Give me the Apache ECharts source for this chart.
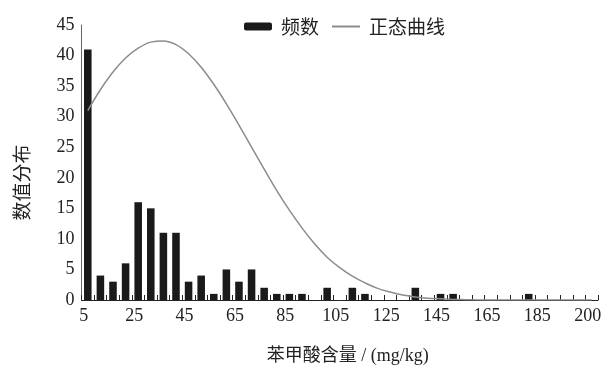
<!DOCTYPE html>
<html>
<head>
<meta charset="utf-8">
<title>苯甲酸含量分布</title>
<script src="https://cdn.jsdelivr.net/npm/echarts@6/dist/echarts.min.js"></script>
<style>
	html, body { margin: 0; padding: 0; background: #fff; }
	#chart { width: 608px; height: 365px; }
</style>
</head>
<body>
<div id="chart"></div>
<script>
	// 分组（含量区间，mg/kg）
	var bins = ['5','10','15','20','25','30','35','40','45','50','55','60','65','70','75','80','85','90','95','100',
		'105','110','115','120','125','130','135','140','145','150','155','160','165','170','175','180','185','190','195','200','205'];
	// 频数
	var freq = [41,4,3,6,16,15,11,11,3,4,1,5,3,5,2,1,1,1,0,2,
		0,2,1,0,0,0,2,0,1,1,0,0,0,0,0,1,0,0,0,0,0];
	// 正态曲线
	var normal = [31.0,34.4,37.3,39.6,41.2,42.2,42.4,41.8,40.3,38.1,35.3,32.1,28.6,25.0,21.4,17.9,14.7,11.8,9.2,7.0,
		5.3,3.9,2.8,1.9,1.3,0.8,0.5,0.3,0.2,0.1,0.05,0,0,0,0,0,0,0,0,0,0];
	// x轴刻度标签：[分组序号, 文本]
	var xTicks = [[0,'5'],[4,'25'],[8,'45'],[12,'65'],[16,'85'],[20,'105'],[24,'125'],[28,'145'],[32,'165'],[36,'185'],[40,'200']];
	var yTicks = [0, 45, 5];

	var serif = "'Liberation Serif', 'Times New Roman', 'Noto Sans CJK SC'";
	var tickMap = {};
	xTicks.forEach(function (t) { tickMap[t[0]] = t[1]; });

	var chart = echarts.init(document.getElementById('chart'));
	var option = {
		animation: false,
		color: ['#1a1a1a', '#8c8c8c'],
		legend: {
			left: 239,
			top: 12,
			itemGap: 12,
			itemWidth: 28,
			itemHeight: 8,
			data: [
				'频数',
				// 图例只画线，不要圆点
				{ name: '正态曲线', itemStyle: { color: 'rgba(0,0,0,0)', borderColor: 'rgba(0,0,0,0)', borderWidth: 0 } }
			],
			textStyle: {
				color: '#222',
				fontSize: 19,
				fontFamily: "'Noto Sans CJK SC'",
				padding: [0, 0, 0, 4]
			}
		},
		grid: {
			left: 81.5,
			right: 10,
			top: 25,
			bottom: 65,
			containLabel: false,
			outerBoundsMode: 'none'
		},
		xAxis: {
			type: 'category',
			data: bins,
			boundaryGap: true,
			name: '苯甲酸含量 / (mg/kg)',
			nameLocation: 'middle',
			nameGap: 47,
			nameTextStyle: {
				color: '#222',
				fontSize: 18,
				fontFamily: serif,
				padding: [0, 0, 0, 16]
			},
			axisLine: { lineStyle: { color: '#222', width: 1 } },
			axisTick: {
				show: true,
				inside: true,
				length: 5,
				interval: 0,
				lineStyle: { color: '#222' }
			},
			axisLabel: {
				color: '#222',
				fontSize: 18,
				fontFamily: serif,
				margin: 7,
				padding: [0, 8, 0, 0],
				interval: function (idx) { return tickMap[idx] !== undefined; },
				formatter: function (val, idx) { return tickMap[idx] || ''; }
			}
		},
		yAxis: {
			type: 'value',
			min: yTicks[0],
			max: yTicks[1],
			interval: yTicks[2],
			name: '数值分布',
			nameLocation: 'middle',
			nameGap: 50,
			nameTextStyle: {
				color: '#222',
				fontSize: 19,
				fontFamily: "'Noto Sans CJK SC'",
				padding: [0, 40, 0, 0]
			},
			axisLine: { show: true, lineStyle: { color: '#666', width: 1 } },
			axisTick: { show: false },
			splitLine: { show: false },
			axisLabel: {
				color: '#222',
				fontSize: 18,
				fontFamily: serif,
				margin: 7
			}
		},
		series: [
			{
				name: '频数',
				type: 'bar',
				barWidth: '60%',
				data: freq,
				itemStyle: { color: '#1a1a1a' }
			},
			{
				name: '正态曲线',
				type: 'line',
				data: normal,
				smooth: 0.4,
				symbol: 'none',
				lineStyle: { color: '#8c8c8c', width: 1.5 },
				z: 3
			}
		]
	};
	chart.setOption(option);
</script>
</body>
</html>
